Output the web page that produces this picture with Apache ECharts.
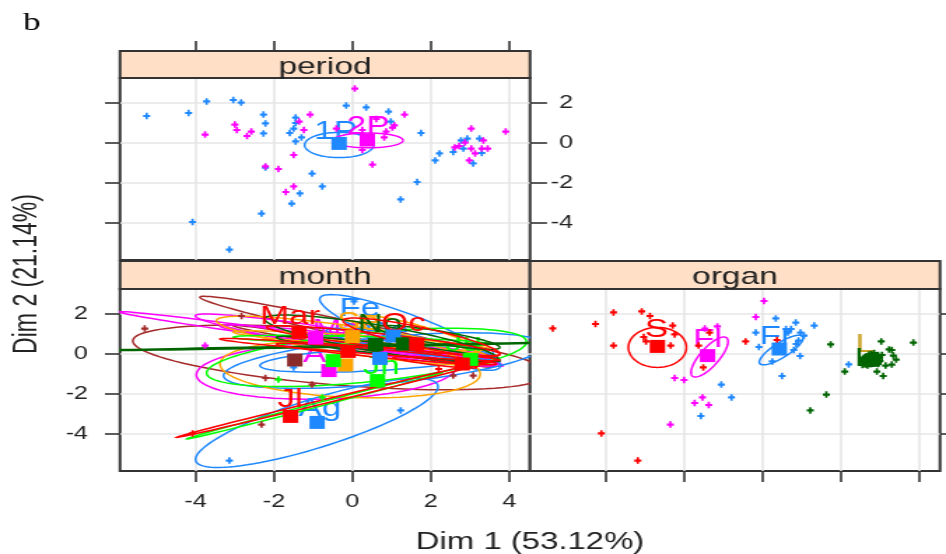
<!DOCTYPE html>
<html><head><meta charset="utf-8">
<style>html,body{margin:0;padding:0;background:#fff;overflow:hidden}
#c{width:676px;height:554px;transform-origin:0 0;transform:scaleX(1.39941)}</style>
<script src="https://cdn.jsdelivr.net/npm/echarts@6/dist/echarts.min.js"></script>
</head><body><div id="c"></div>
<script>
const tickValues=[-4,-2,0,2,4];
const xRange=[-5.93,4.53], yRange=[-5.85,3.25];
// period panel
const period1Points=[[-5.25,1.35],[-4.18,1.5],[-3.72,2.08],[-3.04,2.15],[-2.84,2.02],[-2.27,1.42],[-2.22,.98],[-2.27,.48],[-1.45,1.27],[-1.45,1],[-1.5,.72],[-1.6,.5],[-1.3,.28],[-1.45,.08],[-2.22,-1.23],[-1.03,-1.53],[-.77,-2.17],[-1.34,-2.52],[-1.55,-3.03],[-2.32,-3.53],[-4.08,-3.95],[-3.14,-5.33],[-.16,1.87],[.35,1.78],[.92,1.57],[.98,1.07],[1.75,.5],[1.23,-2.82],[1.65,-1.95],[2.22,-.52],[2.11,-.87],[2.57,-.45],[2.77,.13],[2.93,.22],[3.24,.22],[2.83,-.28],[3.3,-.5],[3.08,-1.02]];
const period2Points=[[.06,2.72],[-1.08,1.42],[-1.36,1.07],[-1.24,.65],[-3,.92],[-2.95,.65],[-2.58,.57],[-2.69,.35],[-3.76,.42],[-2.22,-1.17],[-1.89,-1.3],[-1.5,-.6],[-1.5,-2.17],[-1.7,-2.45],[-.41,.72],[.25,.65],[.61,1.2],[1.33,1.42],[1.07,.88],[1.02,.77],[.86,.57],[.81,.28],[.25,-.35],[.51,-1.08],[3.03,.72],[3.91,.57],[3.34,.13],[2.87,.02],[2.72,-.15],[2.61,-.22],[3.03,-.28],[3.13,-.52],[3.3,-.28],[3.45,-.28],[2.98,-.87]];
const period1Centre=[[-.34,-.02]], period2Centre=[[.38,.15]];
const period1Ellipse=[[-.34,-.1,.88,0,0,.63]], period2Ellipse=[[.4,.13,.89,0,0,.37]];
const period1Label=[[-.43,.55,'1P']], period2Label=[[.4,.8,'2P']];
// organ panel
const organSPoints=[[-5.35,1.28],[-4.26,1.5],[-3.8,2.08],[-3.08,2.13],[-2.87,1.9],[-4.11,-3.97],[-3.18,-5.33],[-2.29,1.42],[-2.24,.98],[-3.03,.85],[-2.97,.63],[-3.8,.42],[-2.34,.42],[-1.63,.42],[-1.35,1.07],[-1.51,-.67],[-.43,.63],[.37,.7]];
const organFPoints=[[.04,2.65],[-.17,1.85],[-1.15,1.38],[-1.47,1.27],[-2.24,-1.2],[-2,-1.3],[-1.53,-2.17],[-1.73,-2.45],[-1.37,-2.55],[-2.35,-3.53]];
const organFrPoints=[[-1.05,-1.53],[-.79,-2.17],[-1.57,-3.1],[-.17,1.07],[-.09,.35],[.34,1.78],[.85,1.57],[1.32,1.42],[.6,1.25],[.73,1.25],[.65,1.07],[.97,1.07],[1.06,.92],[.92,.67],[.86,.5],[.8,.2],[.96,-.1],[.25,-.37],[.5,-1.1],[2.2,-.52]];
const organLPoints=[[1.74,.48],[3.03,.63],[3.85,.57],[2.1,-.88],[1.22,-2.82],[1.63,-2.03],[2.92,-.88],[3.08,-1.1],[3.3,.2],[3.23,.23],[3.34,-.08],[3.41,-.28],[3.3,-.53],[3.14,-.58],[2.55,-.35],[2.6,-.2],[2.65,-.45],[2.7,-.1],[2.72,-.3],[2.75,-.5],[2.78,0],[2.8,-.22],[2.85,-.42],[2.88,-.12],[2.9,-.3],[2.95,-.5],[2.98,-.18],[3,-.35],[3.05,-.05],[2.6,-.3],[2.68,-.22],[2.75,-.15],[2.82,-.32],[2.9,-.2],[2.95,-.05],[2.7,-.4],[2.8,-.45],[2.62,-.52],[2.55,-.55],[2.68,-.58],[2.72,-.02],[2.85,.05],[2.92,-.42]];
const organSCentre=[[-2.68,.38]], organFCentre=[[-1.4,-.08]], organFrCentre=[[.43,.25]], organLCentre=[[2.8,-.3]];
const organSEllipse=[[-2.68,.33,.74,0,0,1]], organFEllipse=[[-1.35,-.15,.44,.95,.17,-.32]], organFrEllipse=[[.48,.2,.55,.67,.1,-.32]], organLEllipse=[[2.78,-.3,.27,0,0,.32]];
const organSLabel=[[-2.7,1.2,'S']], organFLabel=[[-1.4,.67,'Fl']], organFrLabel=[[.35,.85,'Fr']], organLLabel=[[2.6,-.25,'L']], organLUpperLabel=[[2.62,.45,'L']];
// month panel
const monthBrownEllipses=[[-.06,1.25,3.83,-1.58,-.07,.42],[-.32,-.17,5.27,-.92,.38,1.33],[.28,.38,3.32,-1.03,0,.17]];
const monthMagentaEllipses=[[-1.08,.8,4.85,-1.3,0,.2],[-.17,.7,3.84,-1.2,-.05,.5],[-.66,-.83,3.32,.17,-.09,-1.42],[.06,.62,3.44,-.78,0,.3],[1.55,.25,2.3,-.83,0,.25]];
const monthBlueEllipses=[[1.47,1.08,2.25,-1.42,-.5,1.25],[.79,-.33,4.08,.75,0,1.17],[.62,-.25,2.98,.33,0,.58],[-.91,-3.45,3.09,1.87,-.13,1.2],[1.47,.5,2.13,-.67,0,.42]];
const monthOrangeEllipses=[[.06,.67,3.53,-1,0,.7],[-.06,-.75,3.32,-.25,0,1.42],[.23,.67,3.27,-.42,0,.25],[1.72,1,1.53,-.83,0,.42]];
const monthGreenEllipses=[[.36,-.17,4.08,.75,-.09,-1.25],[-.96,-2.58,3.27,1.67,0,.1],[.23,.67,3.27,-.17,0,.2]];
const monthDarkEllipses=[[.74,.75,2.98,-1,0,.67],[-.7,.37,6.5,.22,0,.04],[.91,.25,2.85,-.58,0,.27],[2.19,.83,1.57,-.5,0,.33]];
const monthRedEllipses=[[-.45,-2.25,4.04,1.92,0,.1],[.19,.22,3.57,-.53,0,.17],[.79,.67,2.98,-.67,0,.33],[.87,0,2.81,-.5,0,.2],[1.76,.83,2,-.83,0,.5],[2.1,-.42,1.06,-.25,0,.13]];
const monthBrownPoints=[[-5.3,1.27],[-2.83,1.9],[-2.22,-1.2],[-1.03,-1.53],[-2.32,-3.53],[3.08,-1.08],[2.57,-1.08]];
const monthMagentaPoints=[[-3.76,.42]];
const monthBluePoints=[[-3.14,-5.33],[1.23,-2.82],[.04,2.63],[-1.5,-.67]];
const monthGreenPoints=[[-1.89,-1.28],[-.77,-2.17]];
const monthRedPoints=[[-4.08,-3.97],[3.14,-.58],[2.2,-.75]];
const monthBrownCentres=[[-1.47,-.3]];
const monthMagentaCentres=[[-.94,.8],[-.6,-.83]];
const monthBlueCentres=[[.7,-.22],[-.9,-3.42],[1.04,.9]];
const monthOrangeCentres=[[-.18,-.55],[0,.87]];
const monthGreenCentres=[[-.49,-.33],[.64,-1.33],[3.01,-.27]];
const monthDarkCentres=[[.59,.47],[1.3,.5]];
const monthRedCentres=[[-1.36,1.08],[-.11,.13],[1.64,.5],[-1.58,-3.12],[2.8,-.5]];
const monthBrownLabels=[];
const monthMagentaLabels=[[-.4,1.17,'Ma'],[-.96,-.08,'A']];
const monthBlueLabels=[[.19,2.25,'Fe'],[.87,1.08,'De'],[-.83,-2.75,'Ag']];
const monthOrangeLabels=[[.15,1.53,'Se']];
const monthGreenLabels=[[.74,-.67,'Jn'],[2.83,.5,'Ju']];
const monthDarkLabels=[[.7,1.42,'No']];
const monthRedLabels=[[-1.59,1.83,'Mar'],[1.3,1.5,'Oc'],[-1.59,-2.33,'Jl']];

const RED='#ff0000',BLUE='#1e88ff',MAG='#ff00ff',GREEN='#00ff00',BROWN='#a52a2a',ORANGE='#ffa500',DARK='#006400',SQBROWN='#8b2a2a',GOLD='#c9a227';
const K=946/676, FONT='"Liberation Sans",Arial,sans-serif', INK='#333';
const panelW=410/K, leftA=120/K, leftB=530/K;
const grids=[
 {left:leftA,top:78,width:panelW,height:182},
 {left:leftA,top:289,width:panelW,height:182},
 {left:leftB,top:289,width:panelW,height:182}
].map(g=>Object.assign(g,{show:true,backgroundColor:'#fff',borderColor:INK,borderWidth:2,containLabel:false}));
const split={show:true,lineStyle:{color:'#e6e6e6',width:1.6}};
const tick=(len,on=true)=>({show:on,length:len,customValues:tickValues,lineStyle:{color:INK,width:1.6}});
const lab=(on,m)=>({show:on,customValues:tickValues,margin:m,color:'#222',fontFamily:FONT,fontSize:18});
const noLine={show:false,onZero:false};
const xAxes=[
 {gridIndex:0,position:'top',offset:27,axisTick:tick(10),axisLabel:lab(false,4)},
 {gridIndex:1,position:'bottom',axisTick:tick(11),axisLabel:lab(true,22)},
 {gridIndex:2,position:'bottom',axisTick:tick(11),axisLabel:lab(false,4)}
].map(a=>Object.assign(a,{type:'value',min:xRange[0],max:xRange[1],axisLine:noLine,splitLine:split}));
const yAxes=[
 {gridIndex:0,position:'left',axisTick:tick(15/K),axisLabel:lab(false,4)},
 {gridIndex:0,position:'right',axisTick:tick(17/K),axisLabel:lab(true,4),splitLine:{show:false}},
 {gridIndex:1,position:'left',axisTick:tick(15/K),axisLabel:lab(true,32/K)},
 {gridIndex:2,position:'right',axisTick:tick(17/K),axisLabel:lab(false,4)}
].map(a=>Object.assign({splitLine:split},a,{type:'value',min:yRange[0],max:yRange[1],axisLine:noLine}));
yAxes[1].axisLabel.margin=(573-530)/K; yAxes[1].axisLabel.align='right'; yAxes[1].axisLabel.padding=[4,0,0,0];
yAxes[2].axisLabel.padding=[2,0,0,0];

function ellipseSeries(g,yi,rows,color){
 return {type:'custom',coordinateSystem:'cartesian2d',xAxisIndex:g,yAxisIndex:yi,clip:true,z:3,silent:true,
  encode:{x:0,y:1},data:rows,
  renderItem(params,api){
   const r=rows[params.dataIndex], pts=[];
   for(let i=0;i<=96;i++){const t=i/96*Math.PI*2,c=Math.cos(t),s=Math.sin(t);
     pts.push(api.coord([r[0]+r[2]*c+r[4]*s,r[1]+r[3]*c+r[5]*s]));}
   return {type:'polyline',shape:{points:pts},style:{stroke:color,fill:null,lineWidth:1.5}};
  }};
}
function pointSeries(g,yi,rows,color){
 return {type:'scatter',xAxisIndex:g,yAxisIndex:yi,z:4,silent:true,data:rows,
  symbol:'path://M-1 -3H1V-1H3V1H1V3H-1V1H-3V-1H-1Z',symbolSize:[5,6.5],itemStyle:{color,opacity:1}};
}
function centreSeries(g,yi,rows,color){
 return {type:'scatter',xAxisIndex:g,yAxisIndex:yi,z:5,silent:true,data:rows,symbol:'rect',symbolSize:[11,13],itemStyle:{color,opacity:1}};
}
function labelSeries(g,yi,rows,color){
 return {type:'custom',coordinateSystem:'cartesian2d',xAxisIndex:g,yAxisIndex:yi,clip:true,z:3,silent:true,
  encode:{x:0,y:1},data:rows.map(r=>[r[0],r[1]]),
  renderItem(params,api){
   const r=rows[params.dataIndex],p=api.coord([r[0],r[1]]);
   return {type:'text',x:p[0],y:p[1],style:{text:r[2],fill:color,fontFamily:FONT,fontSize:25,align:'center',verticalAlign:'middle'}};
  }};
}
function group(g,yi,color,e,p,c,l,cc){
 return [labelSeries(g,yi,l,color),ellipseSeries(g,yi,e,color),pointSeries(g,yi,p,color),centreSeries(g,yi,c,cc||color)];
}
const series=[
 ...group(0,0,BLUE,period1Ellipse,period1Points,period1Centre,period1Label),
 ...group(0,0,MAG,period2Ellipse,period2Points,period2Centre,period2Label),
 ...group(1,2,BROWN,monthBrownEllipses,monthBrownPoints,monthBrownCentres,monthBrownLabels,SQBROWN),
 ...group(1,2,MAG,monthMagentaEllipses,monthMagentaPoints,monthMagentaCentres,monthMagentaLabels),
 ...group(1,2,BLUE,monthBlueEllipses,monthBluePoints,monthBlueCentres,monthBlueLabels),
 ...group(1,2,ORANGE,monthOrangeEllipses,[],monthOrangeCentres,monthOrangeLabels),
 ...group(1,2,GREEN,monthGreenEllipses,monthGreenPoints,monthGreenCentres,monthGreenLabels),
 ...group(1,2,DARK,monthDarkEllipses,[],monthDarkCentres,monthDarkLabels),
 ...group(1,2,RED,monthRedEllipses,monthRedPoints,monthRedCentres,monthRedLabels),
 ...group(2,3,RED,organSEllipse,organSPoints,organSCentre,organSLabel),
 ...group(2,3,MAG,organFEllipse,organFPoints,organFCentre,organFLabel),
 ...group(2,3,BLUE,organFrEllipse,organFrPoints,organFrCentre,organFrLabel),
 labelSeries(2,3,organLUpperLabel,GOLD),
 ...group(2,3,DARK,organLEllipse,organLPoints,organLCentre,organLLabel)
];
function strip(left,top,h,name){
 return [
  {type:'rect',shape:{x:left,y:top,width:panelW,height:h},style:{fill:'#ffe0c6',stroke:INK,lineWidth:2},z:10},
  {type:'text',x:left+panelW/2,y:top+h/2+2.5,style:{text:name,fill:'#222',fontFamily:FONT,fontSize:24,align:'center',verticalAlign:'middle'},z:11}
 ];
}
const chart=echarts.init(document.getElementById('c'),null,{renderer:'canvas',width:676,height:554});
chart.setOption({animation:false,backgroundColor:'#fff',grid:grids,xAxis:xAxes,yAxis:yAxes,series,
 graphic:{elements:[
  ...strip(leftA,51,27,'period'),...strip(leftA,261,28,'month'),...strip(leftB,261,28,'organ'),
  {type:'text',x:23/K,y:11,style:{text:'b',fill:'#000',fontFamily:'"Liberation Serif",serif',fontSize:25}},
  {type:'text',x:530/K,y:543,style:{text:'Dim 1 (53.12%)',fill:'#222',fontFamily:FONT,fontSize:23.5,align:'center',verticalAlign:'middle'}},
  {type:'text',x:27/K,y:274,rotation:Math.PI/2,style:{text:'Dim 2 (21.14%)',fill:'#222',fontFamily:FONT,fontSize:23,align:'center',verticalAlign:'middle'}}
 ]}
});
</script></body></html>
